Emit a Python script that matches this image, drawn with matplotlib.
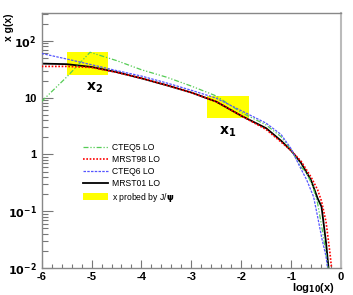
import matplotlib
matplotlib.use("Agg")
import matplotlib.pyplot as plt
from matplotlib.patches import Rectangle
from matplotlib.ticker import FixedLocator, LogLocator, NullFormatter, MultipleLocator

plt.rcParams['font.family'] = ['Liberation Sans', 'DejaVu Sans']
plt.rcParams['mathtext.default'] = 'bf'

# log10(x) grid and x g(x) values
cteq5_lx = [-6, -5.5, -5.03, -4.5, -4, -3.5, -3, -2.5, -2, -1.5, -1.2, -1, -0.8, -0.69, -0.57, -0.47, -0.38, -0.3, -0.26]
cteq5_y = [8.6, 23, 63, 45, 31, 23, 16, 10.7, 5.5, 3.3, 2.05, 1.2, 0.6, 0.47, 0.28, 0.14, 0.05, 0.018, 0.01]

mrst98_lx = [-6, -5.5, -5, -4.5, -4, -3.5, -3, -2.5, -2, -1.5, -1.2, -1, -0.8, -0.6, -0.47, -0.39, -0.3, -0.22, -0.19]
mrst98_y = [35.5, 35.5, 34, 28, 22, 16.6, 12.3, 8.5, 4.8, 2.75, 1.65, 1.17, 0.76, 0.40, 0.24, 0.15, 0.065, 0.018, 0.01]

cteq6_lx = [-6, -5.5, -5, -4.5, -4, -3.5, -3, -2.5, -2, -1.5, -1.2, -1, -0.83, -0.69, -0.55, -0.47, -0.38, -0.3, -0.27]
cteq6_y = [60, 48, 38, 30, 24, 18.2, 13.5, 9.8, 5.9, 3.55, 2.24, 1.26, 0.62, 0.36, 0.18, 0.081, 0.032, 0.016, 0.01]

mrst01_lx = [-6, -5.5, -5, -4.5, -4, -3.5, -3, -2.5, -2, -1.5, -1.2, -1, -0.8, -0.6, -0.47, -0.39, -0.3, -0.25]
mrst01_y = [39.8, 38.9, 34.7, 28.2, 21.9, 16.6, 12.3, 8.5, 4.8, 2.9, 1.74, 1.17, 0.71, 0.35, 0.17, 0.12, 0.028, 0.01]

# regions of x probed by J/psi
box_lx = [(-5.5, -4.67), (-2.69, -1.85)]
box_y = [(25.5, 63), (4.3, 10.5)]
box_names = [r"$\mathbf{x_2}$", r"$\mathbf{x_1}$"]

x_ticks = [-6, -5, -4, -3, -2, -1, 0]
y_ticks = [0.01, 0.1, 1, 10, 100]
y_tick_labels = [r"$10^{-2}$", r"$10^{-1}$", "1", "10", r"$10^{2}$"]

fig = plt.figure(figsize=(3.53, 2.95), dpi=100)
ax = fig.add_axes([0.118, 0.0915, 0.848, 0.8645])

for (x0, x1), (y0, y1) in zip(box_lx, box_y):
    ax.add_patch(Rectangle((x0, y0), x1 - x0, y1 - y0, facecolor="#ffff00",
                           edgecolor="none", zorder=1))

ax.plot(cteq5_lx, cteq5_y, color="#55cc55", lw=0.9, ls=(0, (4, 1.5, 1, 1.5, 1, 1.5)),
        label="CTEQ5 LO", zorder=3)
ax.plot(mrst98_lx, mrst98_y, color="#ff0000", lw=1.2, ls=(0, (1, 1)),
        label="MRST98 LO", zorder=3)
ax.plot(cteq6_lx, cteq6_y, color="#5555ff", lw=0.9, ls=(0, (2, 1)),
        label="CTEQ6 LO", zorder=3)
ax.plot(mrst01_lx, mrst01_y, color="black", lw=1.3, label="MRST01 LO", zorder=2)
ax.add_patch(Rectangle((0, 0), 0, 0, facecolor="#ffff00", label=r"x probed by J/$\psi$"))

ax.text(-4.95, 15, box_names[0], fontsize=10, ha="center", va="center")
ax.text(-2.27, 2.55, box_names[1], fontsize=10, ha="center", va="center")

ax.set_yscale("log")
ax.set_xlim(-6, 0)
ax.set_ylim(0.01, 310)

ax.xaxis.set_major_locator(FixedLocator(x_ticks))
ax.xaxis.set_minor_locator(MultipleLocator(0.2))
ax.set_xticklabels([str(t) for t in x_ticks])
ax.yaxis.set_major_locator(FixedLocator(y_ticks))
ax.yaxis.set_minor_locator(LogLocator(base=10, subs=range(2, 10)))
ax.yaxis.set_minor_formatter(NullFormatter())
ax.set_yticklabels(y_tick_labels)

for lab in ax.get_xticklabels() + ax.get_yticklabels():
    lab.set_fontweight("bold")

ax.tick_params(which="both", direction="in", top=False, right=False,
               colors="#777777", labelcolor="black")
ax.tick_params(axis="y", which="major", length=8, width=0.8, pad=3.5, labelsize=8)
ax.tick_params(axis="y", which="minor", length=4, width=0.8)
ax.tick_params(axis="x", which="major", length=6, width=0.8, pad=3, labelsize=8)
ax.tick_params(axis="x", which="minor", length=3, width=0.8)
for side in ["left", "bottom", "top", "right"]:
    ax.spines[side].set_color("#888888")
    ax.spines[side].set_linewidth(1.0)
ax.spines["right"].set_color("#bbbbbb")
ax.spines["right"].set_linewidth(1.5)

ax.legend(loc="upper left", bbox_to_anchor=(0.125, 0.505), frameon=False,
          fontsize=6.2, handlelength=3.0, handleheight=0.8, labelspacing=0.35,
          handletextpad=0.4, borderaxespad=0)

fig.text(0.025, 0.955, "x g(x)", rotation=90, ha="center", va="top",
         fontsize=7.5, fontweight="bold")
fig.text(0.95, 0.048, r"log$_{10}$(x)", ha="right", va="top",
         fontsize=8, fontweight="bold")

fig.savefig("out.png", dpi=100, facecolor="white")
